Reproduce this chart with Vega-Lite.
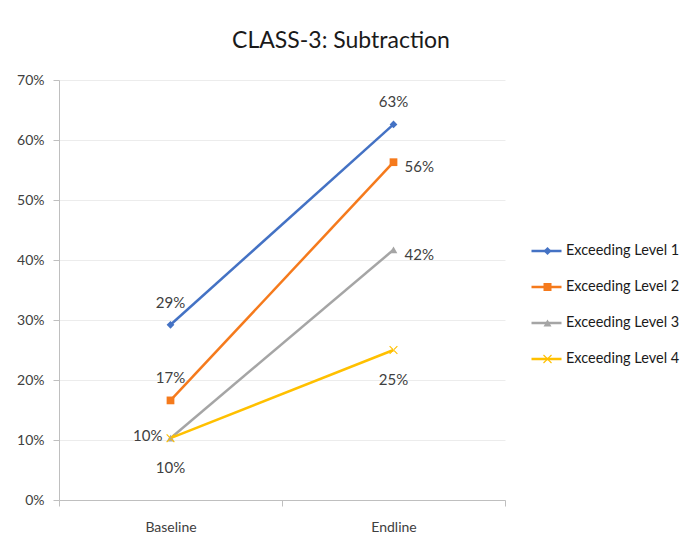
{
  "$schema": "https://vega.github.io/schema/vega-lite/v6.json",
  "width": 446,
  "height": 420,
  "autosize": {"type": "none"},
  "padding": {"left": 59, "top": 80, "right": 178, "bottom": 40},
  "background": "white",
  "config": {
    "font": "Lato",
    "view": {"stroke": null},
    "axis": {"labelColor": "#404040", "labelFontSize": 14, "domainColor": "#bfbfbf", "tickColor": "#bfbfbf", "tickSize": 6, "title": null}
  },
  "title": {"text": "CLASS-3: Subtraction", "fontSize": 23, "fontWeight": "normal", "color": "#1a1a1a", "anchor": "middle", "dx": 59, "offset": 20},
  "data": {"values": [
    {"series": "Exceeding Level 1", "period": "Baseline", "value": 0.292},
    {"series": "Exceeding Level 1", "period": "Endline", "value": 0.626},
    {"series": "Exceeding Level 2", "period": "Baseline", "value": 0.166},
    {"series": "Exceeding Level 2", "period": "Endline", "value": 0.563},
    {"series": "Exceeding Level 3", "period": "Baseline", "value": 0.103},
    {"series": "Exceeding Level 3", "period": "Endline", "value": 0.417},
    {"series": "Exceeding Level 4", "period": "Baseline", "value": 0.103},
    {"series": "Exceeding Level 4", "period": "Endline", "value": 0.25}
  ]},
  "encoding": {
    "x": {"field": "period", "type": "nominal", "scale": {"type": "band", "paddingInner": 0, "paddingOuter": 0},
      "axis": {"labelAngle": 0, "tickBand": "extent", "labelPadding": 14, "grid": false}},
    "y": {"field": "value", "type": "quantitative", "scale": {"domain": [0, 0.7], "nice": false},
      "axis": {"values": [0, 0.1, 0.2, 0.3, 0.4, 0.5, 0.6, 0.7], "format": ".0%", "grid": true, "gridColor": "#ececec", "labelPadding": 9}}
  },
  "layer": [
    {
      "mark": {"type": "line", "strokeWidth": 2.5},
      "encoding": {
        "stroke": {"field": "series", "type": "nominal",
          "scale": {"domain": ["Exceeding Level 1", "Exceeding Level 2", "Exceeding Level 3", "Exceeding Level 4"], "range": ["#4472C4", "#F57A1C", "#A5A5A5", "#FFC000"]},
          "legend": {"title": null, "orient": "none", "legendX": 471, "legendY": 156, "symbolType": "stroke", "symbolSize": 900, "symbolStrokeWidth": 2.5, "clipHeight": 30, "rowPadding": 6, "labelFontSize": 14.5, "labelColor": "#1a1a1a", "labelOffset": 3, "padding": 0}}
      }
    },
    {
      "mark": {"type": "point", "filled": true, "opacity": 1, "size": 60, "strokeWidth": 0},
      "encoding": {
        "fill": {"field": "series", "type": "nominal", "scale": {"range": ["#4472C4", "#F57A1C", "#A5A5A5", "#FFC000"]},
          "legend": {"title": null, "orient": "none", "legendX": 481, "legendY": 156, "clipHeight": 30, "rowPadding": 6, "labelFontSize": 15, "labelExpr": "''", "padding": 0, "symbolSize": 64}},
        "shape": {"field": "series", "type": "nominal",
          "scale": {"range": ["diamond", "square", "triangle-up", "M-1.1,-0.9L0.9,1.1L1.1,0.9L-0.9,-1.1ZM-1.1,0.9L0.9,-1.1L1.1,-0.9L-0.9,1.1Z"]}}
      }
    },
    {
      "transform": [{"filter": "datum.series === 'Exceeding Level 1' || (datum.series === 'Exceeding Level 2' && datum.period === 'Baseline')"}],
      "mark": {"type": "text", "dy": -22, "fontSize": 15, "color": "#404040"},
      "encoding": {"text": {"field": "value", "type": "quantitative", "format": ".0%"}}
    },
    {
      "transform": [{"filter": "(datum.series === 'Exceeding Level 2' || datum.series === 'Exceeding Level 3') && datum.period === 'Endline'"}],
      "mark": {"type": "text", "align": "left", "dx": 11, "dy": 5, "fontSize": 15, "color": "#404040"},
      "encoding": {"text": {"field": "value", "type": "quantitative", "format": ".0%"}}
    },
    {
      "transform": [{"filter": "datum.series === 'Exceeding Level 3' && datum.period === 'Baseline'"}],
      "mark": {"type": "text", "align": "right", "dx": -8, "dy": -2, "fontSize": 15, "color": "#404040"},
      "encoding": {"text": {"field": "value", "type": "quantitative", "format": ".0%"}}
    },
    {
      "transform": [{"filter": "datum.series === 'Exceeding Level 4'"}],
      "mark": {"type": "text", "dy": 30, "fontSize": 15, "color": "#404040"},
      "encoding": {"text": {"field": "value", "type": "quantitative", "format": ".0%"}}
    }
  ]
}
